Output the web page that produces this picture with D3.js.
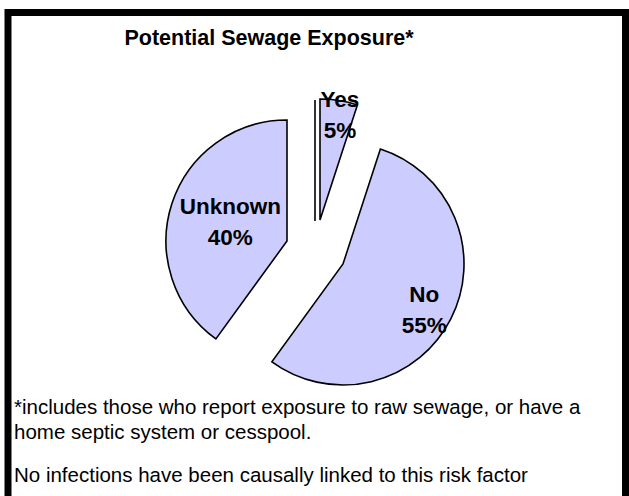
<!doctype html>
<html lang="en">
  <head>
    <meta charset="utf-8">
    <title>Potential Sewage Exposure</title>
    <script src="https://d3js.org/d3.v7.min.js"></script>
    <style>
      body { margin: 0; background: #fff; }
      text { font-family: "Liberation Sans", Arial, sans-serif; }
    </style>
  </head>
  <body>
    <div id="container"></div>
  <script>
    // chart data
    const categories = ["", "Yes", "No", "Unknown"]
    const values = [0, 5, 55, 40]
    const percentLabels = ["", "5%", "55%", "40%"]
    const footnotes = [
      "*includes those who report exposure to raw sewage, or have a",
      "home septic system or cesspool.",
      "No infections have been causally linked to this risk factor"
    ]

    const width = 629
    const height = 496
    const radius = 121
    const center = {x: 300, y: 240}
    // each slice is pulled out of the pie by a different amount
    const explode = [[15, -19], [20, -20], [43, 24], [-13, 1]]
    const labelRadius = [0, 100, 97, 58]
    const labelTilt = [0, 2.5, 6, -6]   // degrees

    const svg = d3.select("#container")
      .append("svg")
        .attr("width", width)
        .attr("height", height)

    // frame
    svg.append("rect")
      .attr("x", 8)
      .attr("y", 12.5)
      .attr("width", 617.5)
      .attr("height", 500)
      .attr("fill", "#fff")
      .attr("stroke", "#000")
      .attr("stroke-width", 7)

    svg.append("text")
      .attr("x", 269)
      .attr("y", 45)
      .attr("text-anchor", "middle")
      .attr("font-size", "21.5px")
      .attr("font-weight", "bold")
      .text("Potential Sewage Exposure*")

    const pie = d3.pie().sort(null).value(d => d)
    const arcs = pie(values)
    const arc = d3.arc().innerRadius(0).outerRadius(radius)

    const slices = svg.append("g")
      .attr("transform", `translate(${center.x},${center.y})`)
      .selectAll("g")
      .data(arcs)
      .join("g")
        .attr("transform", (d, i) => `translate(${explode[i][0]},${explode[i][1]})`)

    slices.append("path")
      .attr("d", arc)
      .attr("fill", "#ccccff")
      .attr("stroke", "#000")
      .attr("stroke-width", 1.6)
      .attr("stroke-linejoin", "miter")

    const labelGroups = slices.filter((d, i) => categories[i] !== "")
      .append("text")
        .attr("text-anchor", "middle")
        .attr("font-size", "22.5px")
        .attr("font-weight", "bold")
        .attr("fill", "#000")
        .attr("transform", d => {
          const i = d.index
          const a = (d.startAngle + d.endAngle) / 2 + labelTilt[i] * Math.PI / 180
          const x = labelRadius[i] * Math.sin(a)
          const y = -labelRadius[i] * Math.cos(a)
          return `translate(${x},${y})`
        })

    labelGroups.append("tspan")
      .attr("x", 0)
      .attr("y", -15)
      .text(d => categories[d.index])
    labelGroups.append("tspan")
      .attr("x", 0)
      .attr("y", 16)
      .text(d => percentLabels[d.index])

    // footnotes, with a paragraph gap before the last line
    svg.append("g")
      .selectAll("text")
      .data(footnotes)
      .join("text")
        .attr("x", 14)
        .attr("y", (d, i) => 414 + i * 25 + (i >= 2 ? 18 : 0))
        .attr("font-size", "20.5px")
        .attr("fill", "#000")
        .text(d => d)
  </script>
  </body>
</html>
